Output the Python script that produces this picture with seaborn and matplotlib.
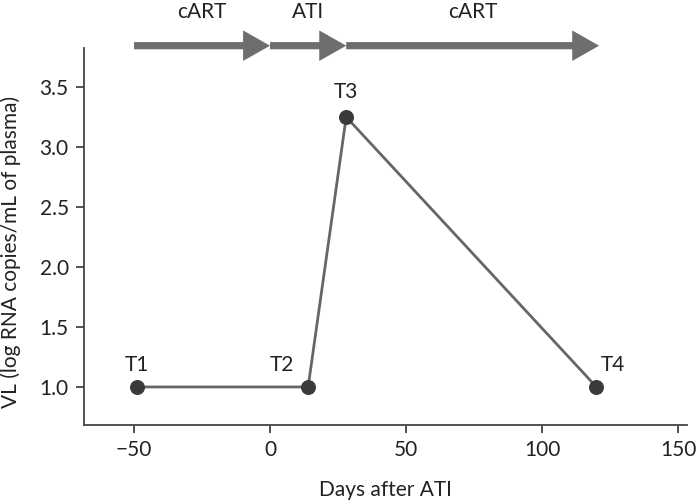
import matplotlib
matplotlib.use("Agg")
import matplotlib.pyplot as plt
import seaborn as sns
import pandas as pd

# Data
labels = ["T1", "T2", "T3", "T4"]
days = [-49, 14, 28, 120]
vl = [1.0, 1.0, 3.25, 1.0]

phase_names = ["cART", "ATI", "cART"]
phase_start = [-50, 0, 28]
phase_end = [0, 28, 121]

x_ticks = [-50, 0, 50, 100, 150]
y_ticks = [1.0, 1.5, 2.0, 2.5, 3.0, 3.5]

sns.set_style("ticks")
plt.rcParams["font.family"] = ["Lato", "DejaVu Sans"]

FS = 15

df = pd.DataFrame({"day": days, "vl": vl, "label": labels})

fig = plt.figure(figsize=(6.97, 5.01), dpi=100)
ax = fig.add_axes([84 / 697, 1 - 425 / 501, 603 / 697, 377 / 501])

sns.lineplot(data=df, x="day", y="vl", ax=ax, color="#666666", linewidth=2.0,
             marker="o", markersize=10, markerfacecolor="#3a3a3a",
             markeredgecolor="#3a3a3a", sort=False)

ax.set_xlim(-68.4, 153.3)
ax.set_ylim(0.683, 3.825)
ax.set_xticks(x_ticks)
ax.set_yticks(y_ticks)
ax.set_yticklabels([f"{v:.1f}" for v in y_ticks])
ax.tick_params(axis="both", labelsize=FS, colors="#333333", length=6,
               width=1.2, direction="out", pad=5, labelcolor="#222222")
for s in ["left", "bottom"]:
    ax.spines[s].set_color("#444444")
    ax.spines[s].set_linewidth(1.3)
sns.despine(ax=ax)

ax.set_xlabel("Days after ATI", fontsize=FS, color="#222222", labelpad=14)
ax.set_ylabel("VL (log RNA copies/mL of plasma)", fontsize=FS,
              color="#222222", labelpad=10)
ax.yaxis.set_label_coords(-0.105, 0.46)

offsets = {"T1": (0, 16), "T2": (-19, 16), "T3": (0, 18), "T4": (12, 16)}
for lab, d, v in zip(labels, days, vl):
    ax.annotate(lab, xy=(d, v), xytext=offsets[lab], textcoords="offset points",
                ha="center", va="center", fontsize=FS, color="#222222")

# phase arrows above the axes
arrow_y = 1 + (48 - 45.7) / 377
for name, s, e in zip(phase_names, phase_start, phase_end):
    ax.annotate("", xy=(e, arrow_y), xytext=(s, arrow_y),
                xycoords=("data", "axes fraction"),
                textcoords=("data", "axes fraction"),
                arrowprops=dict(arrowstyle="simple,head_length=0.97,head_width=1.1,tail_width=0.26",
                                mutation_scale=20, color="#6e6e6e",
                                shrinkA=0, shrinkB=0, lw=0),
                annotation_clip=False)
    ax.annotate(name, xy=((s + e) / 2, 1 - 12 / 501),
                xycoords=("data", "figure fraction"),
                ha="center", va="center", fontsize=FS, color="#222222",
                annotation_clip=False)

fig.savefig("out.png", dpi=100)
